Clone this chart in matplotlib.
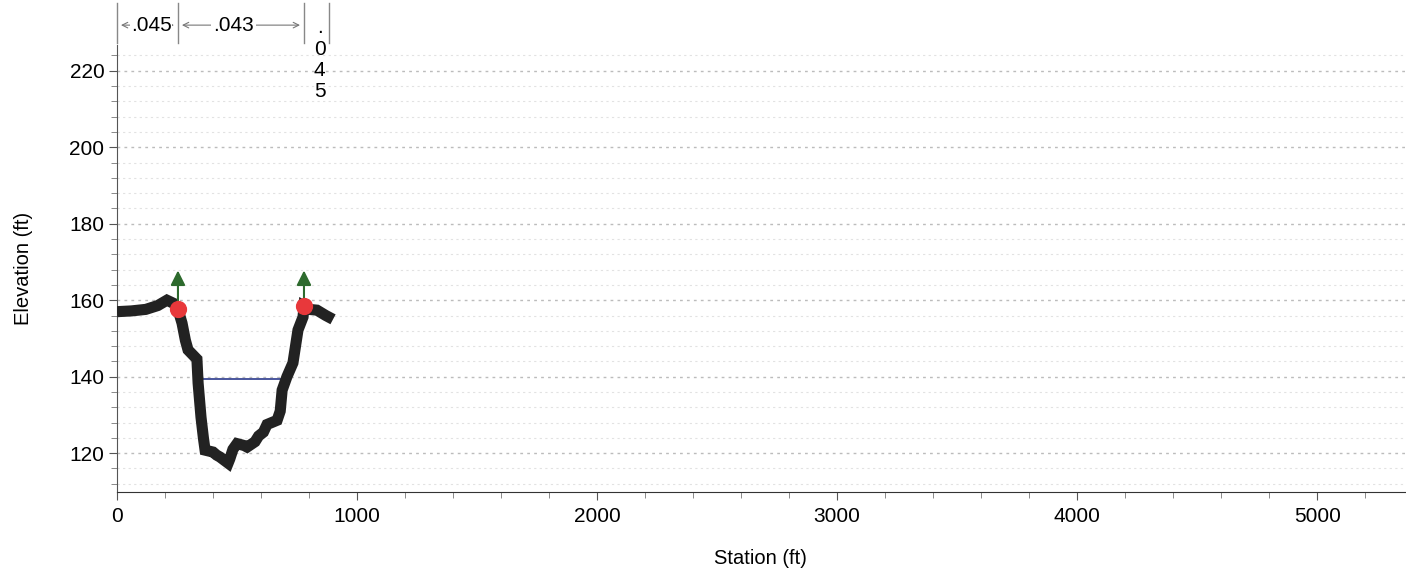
import matplotlib
matplotlib.use("Agg")
import matplotlib.pyplot as plt
from matplotlib.ticker import MultipleLocator
from matplotlib.transforms import blended_transform_factory

plt.rcParams['font.family'] = ['Liberation Sans', 'DejaVu Sans']

# Ground profile of the cross section
station = [0, 60, 120, 170, 208, 235, 254, 271, 285, 296, 333, 338, 350, 360,
           367, 400, 415, 429, 463, 470, 483, 500, 530, 542, 575, 590, 610,
           625, 667, 680, 688, 708, 733, 754, 775, 779, 800, 833, 870, 900]
elevation = [157.0, 157.2, 157.6, 158.6, 160.0, 159.2, 157.6, 154.0, 149.5,
             147.0, 144.6, 138.3, 129.4, 124.0, 120.8, 120.3, 119.5, 119.0,
             117.4, 118.5, 121.0, 122.5, 122.0, 121.6, 123.0, 124.5, 125.5,
             127.5, 128.6, 131.0, 136.5, 140.0, 143.6, 152.2, 155.6, 158.4,
             157.6, 157.4, 156.0, 155.0]

# Bank stations
bank_sta = [254, 779]
bank_elev = [157.6, 158.4]
bank_arrow_top = 168.5

# Water surface
ws_sta = [346, 692]
ws_elev = 139.3

# Manning's n regions
n_values = [".045", ".043", ".045"]
n_bounds = [0, 254, 779, 885]

fig = plt.figure(figsize=(14.06, 5.71), dpi=100)
ax = fig.add_axes([0.0832, 0.138, 0.916, 0.783])

ax.set_xlim(0, 5365)
ax.set_ylim(109.8, 226.7)

# faint dotted horizontal grid
for y in range(112, 227, 4):
    major = (y % 20 == 0)
    ax.axhline(y, color='#bcbcbc' if major else '#e2e2e2',
               lw=1.0 if major else 0.8, ls=(0, (2, 3)), zorder=0)

ax.plot(station, elevation, color='#222222', lw=8, solid_capstyle='butt',
        solid_joinstyle='miter', zorder=3)
ax.plot(ws_sta, [ws_elev, ws_elev], color='#2b3a8c', lw=1.2, zorder=2)

for s, e in zip(bank_sta, bank_elev):
    ax.annotate('', xy=(s, bank_arrow_top), xytext=(s, e),
                arrowprops=dict(arrowstyle='-|>', color='#2d6a2d', lw=1.5,
                                mutation_scale=22), zorder=4)
ax.scatter(bank_sta, bank_elev, s=130, color='#e8383b', zorder=5)

for side in ['top', 'right']:
    ax.spines[side].set_visible(False)
ax.spines['left'].set_color('#555555')
ax.spines['bottom'].set_color('#333333')

ax.xaxis.set_major_locator(MultipleLocator(1000))
ax.xaxis.set_minor_locator(MultipleLocator(200))
ax.yaxis.set_major_locator(MultipleLocator(20))
ax.yaxis.set_minor_locator(MultipleLocator(4))
ax.tick_params(which='major', direction='out', length=6, labelsize=15,
               color='#555555')
ax.tick_params(which='minor', direction='out', length=4, color='#777777')
ax.tick_params(axis='x', pad=5)
ax.tick_params(axis='y', pad=3)

ax.set_xlabel('Station (ft)', fontsize=14.5, labelpad=16)
ax.set_ylabel('Elevation (ft)', fontsize=14.5, labelpad=26)

# Manning's n labels above the section
tr = blended_transform_factory(ax.transData, ax.transAxes)
for b in n_bounds:
    ax.plot([b, b], [1.004, 1.094], transform=tr, color='#888888', lw=1.0,
            clip_on=False)
y_arr = 1.0447
ax.annotate('', xy=(n_bounds[0] + 5, y_arr), xytext=(n_bounds[1] - 5, y_arr),
            xycoords=tr, textcoords=tr,
            arrowprops=dict(arrowstyle='<->', color='#777777', lw=0.8))
ax.text((n_bounds[0] + n_bounds[1]) / 2 + 15, y_arr, n_values[0], transform=tr,
        ha='center', va='center', fontsize=15,
        bbox=dict(facecolor='white', edgecolor='none', pad=0.3))
ax.annotate('', xy=(n_bounds[1] + 5, y_arr), xytext=(n_bounds[2] - 5, y_arr),
            xycoords=tr, textcoords=tr,
            arrowprops=dict(arrowstyle='<->', color='#777777', lw=0.8))
ax.text((n_bounds[1] + n_bounds[2]) / 2 - 30, y_arr, n_values[1], transform=tr,
        ha='center', va='center', fontsize=15,
        bbox=dict(facecolor='white', edgecolor='none', pad=1.5))
# narrow right overbank: characters stacked vertically
ax.text((n_bounds[2] + n_bounds[3]) / 2 + 12, 1.06, '\n'.join(n_values[2]),
        transform=tr, ha='center', va='top', fontsize=15, linespacing=1.15)

fig.savefig('out.png', dpi=100)
